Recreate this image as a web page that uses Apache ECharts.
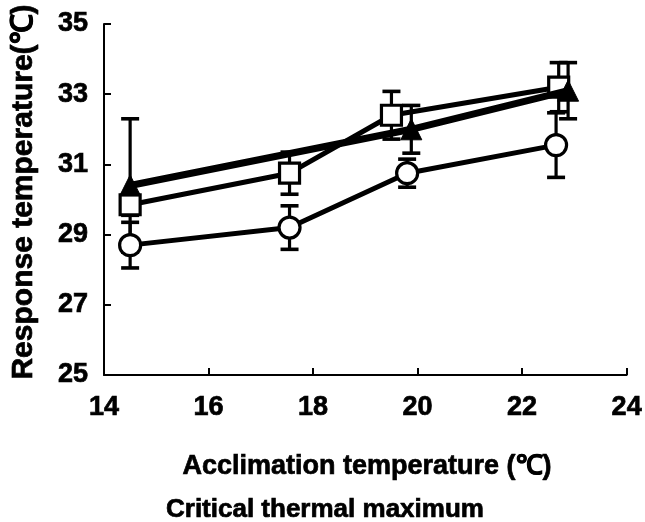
<!DOCTYPE html>
<html><head><meta charset="utf-8">
<script src="https://cdn.jsdelivr.net/npm/echarts@6/dist/echarts.min.js"></script>
<style>html,body{margin:0;padding:0;background:#fff}#c{width:645px;height:522px}</style>
</head><body><div id="c"></div>
<script>
// Data
const circleX = [14.5, 17.55, 19.8, 22.65];
const circleY = [28.7, 29.2, 30.75, 31.55];
const circleErr = [0.65, 0.62, 0.4, 0.92];

const squareX = [14.5, 17.55, 19.5, 22.7];
const squareY = [29.85, 30.75, 32.4, 33.2];
const squareErr = [0.3, 0.6, 0.68, 0.7];

const triangleX = [14.5, 19.88, 22.88];
const triangleY = [30.4, 32.0, 33.1];
const triangleErr = [1.9, 0.68, 0.8];

const xTicks = [14, 16, 18, 20, 22, 24];
const yTicks = [25, 27, 29, 31, 33, 35];

const yTitle = 'Response temperature(\u2103)';
const xTitle = 'Acclimation temperature (\u2103)';
const subTitle = 'Critical thermal maximum';

const FONT = '"Liberation Sans", Arial, sans-serif';

function pts(xs, ys) { return xs.map((x, i) => [x, ys[i]]); }
function errs(xs, ys, es) { return xs.map((x, i) => [x, ys[i] - es[i], ys[i] + es[i]]); }

function errItem(params, api) {
  const x = api.value(0), lo = api.value(1), hi = api.value(2);
  const a = api.coord([x, lo]), b = api.coord([x, hi]);
  const hw = 9;
  const st = { stroke: '#000', lineWidth: 3.2 };
  return {
    type: 'group', children: [
      { type: 'line', shape: { x1: a[0], y1: a[1], x2: b[0], y2: b[1] }, style: st },
      { type: 'line', shape: { x1: a[0] - hw, y1: a[1], x2: a[0] + hw, y2: a[1] }, style: { stroke: '#000', lineWidth: 3.6 } },
      { type: 'line', shape: { x1: b[0] - hw, y1: b[1], x2: b[0] + hw, y2: b[1] }, style: { stroke: '#000', lineWidth: 3.6 } }
    ]
  };
}

const axisCommon = {
  type: 'value',
  axisLine: { show: true, lineStyle: { color: '#000', width: 2 } },
  axisTick: { show: true, inside: true, length: 7, lineStyle: { color: '#000', width: 2 } },
  splitLine: { show: false },
  axisLabel: { color: '#000', fontSize: 27, fontWeight: 'bold', fontFamily: FONT,
    textBorderColor: '#000', textBorderWidth: 0.7 }
};

const chart = echarts.init(document.getElementById('c'));
chart.setOption({
  animation: false,
  backgroundColor: '#fff',
  grid: { left: 104, right: 15, top: 24, bottom: 147, containLabel: false },
  xAxis: Object.assign({}, axisCommon, {
    min: xTicks[0], max: xTicks[xTicks.length - 1], interval: xTicks[1] - xTicks[0],
    axisLabel: Object.assign({}, axisCommon.axisLabel, { margin: 19 })
  }),
  yAxis: Object.assign({}, axisCommon, {
    min: yTicks[0], max: yTicks[yTicks.length - 1], interval: yTicks[1] - yTicks[0],
    axisLabel: Object.assign({}, axisCommon.axisLabel, { margin: 16 })
  }),
  graphic: [
    { type: 'text', x: 24, y: 192, rotation: Math.PI / 2,
      style: { text: yTitle, font: 'bold 30px ' + FONT, fill: '#000', stroke: '#000', lineWidth: 0.7,
        textAlign: 'center', textVerticalAlign: 'middle' } },
    { type: 'text', x: 367, y: 467,
      style: { text: xTitle, font: 'bold 27px ' + FONT, fill: '#000', stroke: '#000', lineWidth: 0.7,
        textAlign: 'center', textVerticalAlign: 'middle' } },
    { type: 'text', x: 166, y: 510,
      style: { text: subTitle, font: 'bold 26px ' + FONT, fill: '#000', stroke: '#000', lineWidth: 0.7,
        textAlign: 'left', textVerticalAlign: 'middle' } }
  ],
  series: [
    { type: 'custom', renderItem: errItem, data: errs(circleX, circleY, circleErr), z: 1, silent: true },
    { type: 'custom', renderItem: errItem, data: errs(squareX, squareY, squareErr), z: 1, silent: true },
    { type: 'custom', renderItem: errItem, data: errs(triangleX, triangleY, triangleErr), z: 1, silent: true },
    { type: 'line', data: pts(circleX, circleY), z: 2, symbol: 'circle', symbolSize: 21,
      itemStyle: { color: '#fff', borderColor: '#000', borderWidth: 3.2 },
      lineStyle: { color: '#000', width: 5 } },
    { type: 'line', data: pts(squareX, squareY), z: 3, symbol: 'rect', symbolSize: 20,
      itemStyle: { color: '#fff', borderColor: '#000', borderWidth: 3.2 },
      lineStyle: { color: '#000', width: 5 } },
    { type: 'line', data: pts(triangleX, triangleY), z: 4, symbol: 'triangle', symbolSize: 21,
      itemStyle: { color: '#000', borderColor: '#000', borderWidth: 1 },
      lineStyle: { color: '#000', width: 7 } }
  ]
});
</script>
</body></html>
